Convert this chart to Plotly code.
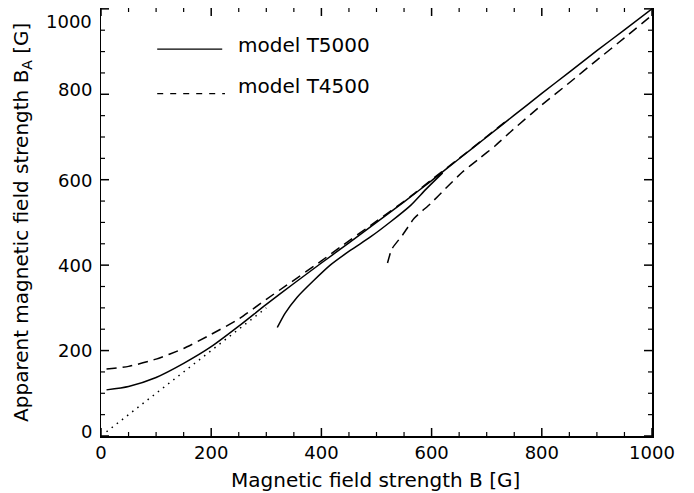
import plotly.graph_objects as go

# ---- data ----
# model T5000, upper branch
t5000_upper_B = [10, 50, 100, 150, 200, 250, 300, 350, 400, 450, 500, 550, 600, 650, 700, 750, 800, 850, 900, 950, 1000]
t5000_upper_BA = [108, 116, 137, 170, 209, 257, 308, 357, 405, 452, 500, 548, 598, 649, 700, 751, 802, 852, 902, 951, 1000]
# model T5000, lower branch
t5000_lower_B = [320, 322, 334, 356, 386, 416, 453, 489, 525, 562, 590, 620]
t5000_lower_BA = [254, 259, 287, 325, 364, 400, 435, 466, 501, 540, 578, 616]
# model T4500, upper branch
t4500_upper_B = [10, 50, 100, 150, 200, 250, 300, 337, 400, 434, 500, 560, 600, 650, 700, 740]
t4500_upper_BA = [157, 163, 180, 205, 238, 274, 320, 353, 410, 442, 503, 559, 600, 650, 701, 742]
# model T4500, lower branch
t4500_lower_B = [520, 528, 547, 568, 598, 625, 656, 686, 716, 744, 800, 850, 900, 950, 1000]
t4500_lower_BA = [405, 438, 470, 509, 544, 579, 618, 649, 680, 713, 775, 827, 880, 932, 985]
# reference line B_A = B
ref_B = [10, 300]
ref_BA = [10, 300]

legend_labels = ["model T5000", "model T4500"]
x_title = "Magnetic field strength B [G]"
y_title = "Apparent magnetic field strength B<sub>A</sub> [G]"
major_ticks = [0, 200, 400, 600, 800, 1000]
minor_ticks = [50, 100, 150, 250, 300, 350, 450, 500, 550, 650, 700, 750, 850, 900, 950]
y_tick_text = ["0", "200", "400", "600", "800", "1000"]

FONT = "DejaVu Sans"
LW = 1.5
X_RANGE = [0, 1000]
Y_RANGE = [0, 1002]

fig = go.Figure()
fig.add_trace(go.Scatter(x=ref_B, y=ref_BA, mode="lines",
                         line=dict(color="black", width=LW, dash="1.5px,5px")))
fig.add_trace(go.Scatter(x=t5000_upper_B, y=t5000_upper_BA, mode="lines",
                         line=dict(color="black", width=LW, shape="spline", smoothing=0.6)))
fig.add_trace(go.Scatter(x=t5000_lower_B, y=t5000_lower_BA, mode="lines",
                         line=dict(color="black", width=LW, shape="spline", smoothing=0.6)))
fig.add_trace(go.Scatter(x=t4500_upper_B, y=t4500_upper_BA, mode="lines",
                         line=dict(color="black", width=LW, dash="10px,6px", shape="spline", smoothing=0.6)))
fig.add_trace(go.Scatter(x=t4500_lower_B, y=t4500_lower_BA, mode="lines",
                         line=dict(color="black", width=LW, dash="10px,6px", shape="spline", smoothing=0.6)))

line_common = dict(showgrid=False, zeroline=False, showline=True, linecolor="black", linewidth=1.5,
                   mirror=True, ticks="", automargin=False, fixedrange=True)
fig.update_layout(
    xaxis=dict(range=X_RANGE, tickmode="array", tickvals=major_ticks,
               tickfont=dict(family=FONT, size=18, color="black"), **line_common),
    yaxis=dict(range=Y_RANGE, showticklabels=False, **line_common),
)

# inside tick marks on all four sides, placed on the axes' own scales
tick_sets = [(major_ticks, 8, 1.5), (minor_ticks, 4, 1.2)]
for vals, length, width in tick_sets:
    for v in vals:
        ln = dict(color="black", width=width)
        fig.add_shape(type="line", xref="x", yref="paper", ysizemode="pixel", yanchor=0,
                      x0=v, x1=v, y0=0, y1=length, line=ln, layer="above")
        fig.add_shape(type="line", xref="x", yref="paper", ysizemode="pixel", yanchor=1,
                      x0=v, x1=v, y0=-length, y1=0, line=ln, layer="above")
        fig.add_shape(type="line", xref="paper", yref="y", xsizemode="pixel", xanchor=0,
                      x0=0, x1=length, y0=v, y1=v, line=ln, layer="above")
        fig.add_shape(type="line", xref="paper", yref="y", xsizemode="pixel", xanchor=1,
                      x0=-length, x1=0, y0=v, y1=v, line=ln, layer="above")

# y tick labels as text next to the axis
label_shift = [5, 0, 0, -1, 5, 0]
label_anchor = ["middle", "middle", "middle", "middle", "middle", "top"]
for v, t, s, a in zip(major_ticks, y_tick_text, label_shift, label_anchor):
    fig.add_annotation(text=t, xref="paper", yref="y", x=0, y=v, xanchor="right", yanchor=a,
                       xshift=-7, yshift=s, showarrow=False,
                       font=dict(family=FONT, size=18, color="black"))

# legend drawn manually
fig.add_shape(type="line", xref="paper", yref="paper", x0=0.102, x1=0.22, y0=0.904, y1=0.904,
              line=dict(color="black", width=1.2))
fig.add_shape(type="line", xref="paper", yref="paper", x0=0.102, x1=0.225, y0=0.8, y1=0.8,
              line=dict(color="black", width=1.2, dash="6px,7px"))
fig.add_annotation(text=legend_labels[0], xref="paper", yref="paper", x=0.245, y=0.914,
                   xanchor="left", yanchor="middle", showarrow=False,
                   font=dict(family=FONT, size=20, color="black"))
fig.add_annotation(text=legend_labels[1], xref="paper", yref="paper", x=0.245, y=0.818,
                   xanchor="left", yanchor="middle", showarrow=False,
                   font=dict(family=FONT, size=20, color="black"))

fig.add_annotation(text=x_title, xref="paper", yref="paper", x=0.498, y=-0.103,
                   xanchor="center", yanchor="middle", showarrow=False,
                   font=dict(family=FONT, size=20, color="black"))
fig.add_annotation(text=y_title, xref="paper", yref="paper", x=-0.1435, y=0.5,
                   xanchor="center", yanchor="middle", showarrow=False, textangle=-90,
                   font=dict(family=FONT, size=20, color="black"))

# page body has an 8px margin: figure is 8px smaller so the plot lands where the reference has it
fig.update_layout(
    template="none",
    width=686, height=485,
    margin=dict(l=93, r=42, t=0, b=57, autoexpand=False),
    paper_bgcolor="white", plot_bgcolor="white",
    showlegend=False, dragmode=False,
)
fig.write_html("out.html", config={"staticPlot": True})
